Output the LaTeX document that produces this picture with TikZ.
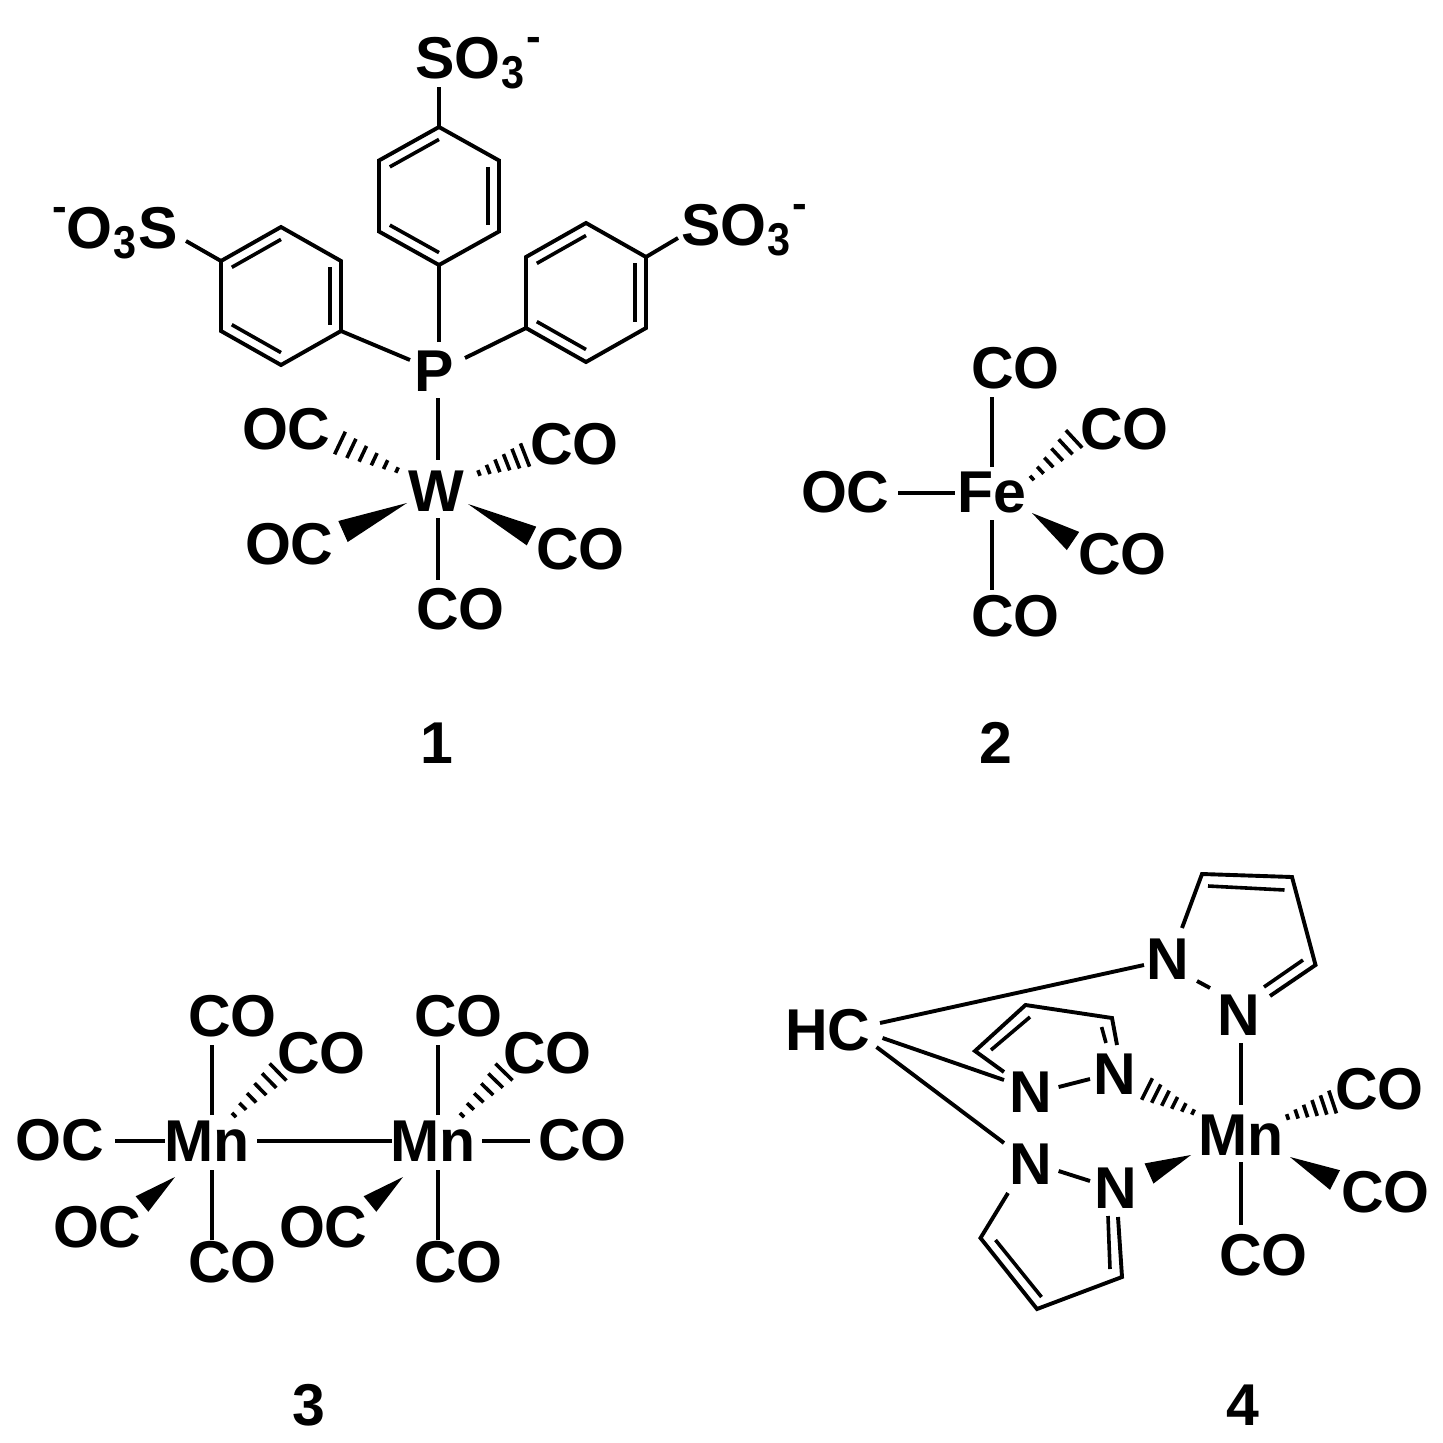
\documentclass[tikz,border=0pt]{standalone}
\usepackage{fontspec}
\usepackage{graphicx}
\setmainfont{Liberation Sans}
\usetikzlibrary{calc}
\newcommand\subthree{\kern1pt\raisebox{-10pt}{\scalebox{.9}[1]{\fontsize{46}{46}\selectfont 3}}\kern2pt}
\newcommand\charge{\raisebox{27pt}{\fontsize{44}{44}\selectfont -}}
\tikzset{
  bondline/.style={line width=3.9pt,line join=miter,black},
  innerline/.style={line width=3.6pt,black},
  hashline/.style={line width=3.6pt,black},
  atom/.style={anchor=base west,inner sep=0pt,outer sep=0pt,font=\fontsize{59}{59}\selectfont\bfseries,text=black},
  numlabel/.style={anchor=base,inner sep=0pt,font=\fontsize{59}{59}\selectfont\bfseries,text=black}
}
% label-to-label bond
\newcommand\bondLL[6]{\draw[bondline] ([shift={(#2,#3)}]#1.base west) -- ([shift={(#5,#6)}]#4.base west);}
% label-to-coordinate bond
\newcommand\bondLC[4]{\draw[bondline] ([shift={(#2,#3)}]#1.base west) -- (#4);}
% inner line label-to-coordinate
\newcommand\innerLC[4]{\draw[innerline] ([shift={(#2,#3)}]#1.base west) -- (#4);}
% wedge: tip at first label, base centre at second
\newcommand\wedgebond[7]{%
  \coordinate (wa) at ([shift={(#2,#3)}]#1.base west);
  \coordinate (wb) at ([shift={(#5,#6)}]#4.base west);
  \fill[black] (wa) -- ($(wb)!#7pt!90:(wa)$) -- ($(wb)!#7pt!-90:(wa)$) -- cycle;}
% hashed wedge: narrow at first label, wide at second
\newcommand\hashbond[7]{%
  \coordinate (ha) at ([shift={(#2,#3)}]#1.base west);
  \coordinate (hb) at ([shift={(#5,#6)}]#4.base west);
  \coordinate (hr) at ($(ha)!2!(hb)$);
  \foreach \f in {0,0.2,0.4,0.6,0.8,1}{
    \pgfmathsetmacro\hh{3+(#7-3)*\f}
    \coordinate (hc) at ($(ha)!\f!(hb)$);
    \draw[hashline] ($(hc)!\hh pt!90:(hr)$) -- ($(hc)!\hh pt!-90:(hr)$);
  }}
% benzene ring: prefix, centre x, y, half width, outer half height, inner half height
\newcommand\hexa[6]{%
  \coordinate (#1c) at (#2,#3);
  \coordinate (#1T) at ($(#1c)+(0,-#5)$);
  \coordinate (#1B) at ($(#1c)+(0,#5)$);
  \coordinate (#1UR) at ($(#1c)+(#4,-#6)$);
  \coordinate (#1LR) at ($(#1c)+(#4,#6)$);
  \coordinate (#1UL) at ($(#1c)+(-#4,-#6)$);
  \coordinate (#1LL) at ($(#1c)+(-#4,#6)$);
  \draw[bondline] (#1T) -- (#1UR) -- (#1LR) -- (#1B) -- (#1LL) -- (#1UL) -- cycle;
  \draw[innerline] ($(#1c)!0.82!(#1UL)$) -- ($(#1c)!0.82!(#1T)$);
  \draw[innerline] ($(#1c)!0.82!(#1UR)$) -- ($(#1c)!0.82!(#1LR)$);
  \draw[innerline] ($(#1c)!0.82!(#1LL)$) -- ($(#1c)!0.82!(#1B)$);}
\begin{document}
\begin{tikzpicture}[x=1pt,y=-1pt]
\fill[white] (0,0) rectangle (1443,1443);
\useasboundingbox (0,0) rectangle (1443,1443);

% ---------- compound 1 ----------
\node[atom] (P) at (414,391) {P};
\node[atom] (W) at (408,511) {W};
\node[atom] (OCa) at (242,449) {OC};
\node[atom] (COa) at (530,464) {CO};
\node[atom] (OCb) at (245,564) {OC};
\node[atom] (COb) at (536,569) {CO};
\node[atom] (COc) at (416,629) {CO};
\node[atom] (St) at (415,78) {SO\subthree\charge};
\node[atom] (Sl) at (52,248) {\charge O\subthree S};
\node[atom] (Sr) at (681,245) {SO\subthree\charge};
\node[numlabel] (n1) at (437,763) {1};
\hexa{t}{439}{196}{60}{69}{35.5}
\hexa{l}{281}{296}{60}{69}{35}
\hexa{r}{586}{292.5}{60}{69.5}{35.5}
\bondLC{St}{24}{9}{tT}
\bondLC{Sl}{134}{-7}{lUL}
\bondLC{Sr}{-3}{-7}{rUR}
\bondLC{P}{25}{-49}{tB}
\bondLC{P}{-4}{-31}{lLR}
\bondLC{P}{51}{-33}{rLL}
\bondLL{P}{24}{7}{W}{30}{-51}
\bondLL{W}{30}{7}{COc}{22}{-49}
\wedgebond{W}{-1}{-8}{OCb}{98}{-32.5}{11.5}
\wedgebond{W}{60}{-7}{COb}{-4.5}{-33}{10.5}
\hashbond{W}{-11}{-41}{OCa}{98}{-6}{12.5}
\hashbond{W}{71}{-38}{COa}{-5}{-9}{12.5}

% ---------- compound 2 ----------
\node[atom] (Fe) at (957,512) {Fe};
\node[atom] (COd) at (971,388) {CO};
\node[atom] (COe) at (1080,449) {CO};
\node[atom] (COf) at (1078,574) {CO};
\node[atom] (COg) at (971,636) {CO};
\node[atom] (OCc) at (801,512) {OC};
\node[numlabel] (n2) at (996,763) {2};
\bondLL{Fe}{35}{-45}{COd}{21}{9}
\bondLL{Fe}{35}{8}{COg}{21}{-46}
\bondLL{OCc}{97}{-19}{Fe}{-2}{-19}
\hashbond{Fe}{75}{-34}{COe}{-6}{-10}{12}
\wedgebond{Fe}{75}{1}{COf}{-5}{-33}{11}

% ---------- compound 3 ----------
\node[atom] (MnA) at (164,1161) {Mn};
\node[atom] (MnB) at (390,1161) {Mn};
\node[atom] (COh) at (188,1036) {CO};
\node[atom] (COi) at (277,1073) {CO};
\node[atom] (OCd) at (16,1160) {OC};
\node[atom] (OCe) at (53,1247) {OC};
\node[atom] (COj) at (188,1282) {CO};
\node[atom] (COk) at (414,1036) {CO};
\node[atom] (COl) at (503,1073) {CO};
\node[atom] (COm) at (538,1160) {CO};
\node[atom] (OCf) at (279,1247) {OC};
\node[atom] (COn) at (414,1282) {CO};
\node[numlabel] (n3) at (309,1425) {3};
\bondLL{MnA}{48}{-46}{COh}{24}{9}
\bondLL{MnA}{48}{9}{COj}{24}{-42}
\bondLL{OCd}{99}{-19}{MnA}{1}{-20}
\bondLL{MnA}{93}{-20}{MnB}{2}{-20}
\bondLL{MnB}{92}{-20}{COm}{-8}{-19}
\bondLL{MnB}{48}{-46}{COk}{24}{9}
\bondLL{MnB}{48}{9}{COn}{24}{-42}
\hashbond{MnA}{70}{-46}{COi}{1}{-1}{12}
\hashbond{MnB}{72}{-46}{COl}{1}{-1}{12}
\wedgebond{MnA}{11}{16}{OCe}{89}{-43}{10}
\wedgebond{MnB}{13}{16}{OCf}{91}{-43}{10}

% ---------- compound 4 ----------
\node[atom] (HC) at (785,1050) {HC};
\node[atom] (Na) at (1146,979) {N};
\node[atom] (Nb) at (1217,1035) {N};
\node[atom] (Nc) at (1093,1094) {N};
\node[atom] (Nd) at (1009,1112) {N};
\node[atom] (Ne) at (1009,1184) {N};
\node[atom] (Nf) at (1094,1208) {N};
\node[atom] (MnC) at (1198,1155) {Mn};
\node[atom] (COo) at (1335,1109) {CO};
\node[atom] (COp) at (1341,1212) {CO};
\node[atom] (COq) at (1219,1275) {CO};
\node[numlabel] (n4) at (1243,1425) {4};
\coordinate (a1) at (1202,874);
\coordinate (a2) at (1292,877);
\coordinate (a3) at (1315.5,965);
\coordinate (a1i) at (1208,886);
\coordinate (a2i) at (1284.5,890);
\coordinate (a3i) at (1303,960);
\coordinate (b1) at (1112,1018);
\coordinate (b2) at (1025.5,1005);
\coordinate (b3) at (975,1051);
\coordinate (b1i) at (1101.6,1027);
\coordinate (b2i) at (1030,1017);
\coordinate (b3i) at (991,1050);
\coordinate (c1) at (980.5,1238);
\coordinate (c2) at (1037,1309);
\coordinate (c3) at (1122,1277);
\coordinate (c1i) at (995.5,1240);
\coordinate (c2i) at (1041.5,1297);
\coordinate (c3i) at (1110,1269);
\bondLL{HC}{95}{-27}{Na}{-2}{-14}
\bondLL{HC}{97.5}{-12}{Nd}{-5}{-32}
\bondLL{HC}{91.5}{-3}{Ne}{-5}{-41}
\draw[bondline] ([shift={(36,-51)}]Na.base west) -- (a1) -- (a2) -- (a3) -- ([shift={(53,-39)}]Nb.base west);
\draw[innerline] (a1i) -- (a2i);
\innerLC{Nb}{47}{-48}{a3i}
\bondLL{Na}{51}{2}{Nb}{-7}{-47}
\bondLL{Nb}{24}{8}{MnC}{43}{-50}
\bondLL{MnC}{43}{7}{COq}{22}{-50}
\hashbond{MnC}{89.6}{-38}{COo}{-2.4}{-7}{12}
\hashbond{MnC}{-5}{-43}{Nc}{54}{-5}{12}
\wedgebond{MnC}{-7}{0}{Nf}{55}{-34.5}{11}
\wedgebond{MnC}{92}{2}{COp}{-6}{-32}{11}
\draw[bondline] ([shift={(24,-49)}]Nc.base west) -- (b1) -- (b2) -- (b3) -- ([shift={(-5,-40)}]Nd.base west);
\innerLC{Nc}{13}{-51}{b1i}
\draw[innerline] (b2i) -- (b3i);
\bondLL{Nd}{49.6}{-25}{Nc}{-3}{-15}
\draw[bondline] ([shift={(-1,9)}]Ne.base west) -- (c1) -- (c2) -- (c3) -- ([shift={(24,9)}]Nf.base west);
\draw[innerline] (c1i) -- (c2i);
\innerLC{Nf}{14}{8}{c3i}
\bondLL{Ne}{49.6}{-13}{Nf}{-4}{-27}
\end{tikzpicture}
\end{document}
